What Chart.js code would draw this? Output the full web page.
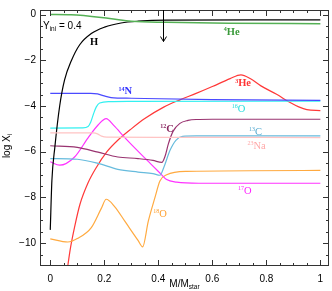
<!DOCTYPE html>
<html>
<head>
<meta charset="utf-8">
<script src="https://cdn.jsdelivr.net/npm/chart.js@4.4.1/dist/chart.umd.min.js"></script>
<style>
  html, body { margin: 0; padding: 0; background: #fff; }
  canvas { display: block; }
</style>
</head>
<body>
<canvas id="abundChart" width="332" height="291"></canvas>
<script>
// tick values
const xTicks = [0, 0.2, 0.4, 0.6, 0.8, 1];
const yTicks = [0, -2, -4, -6, -8, -10];

// abundance profiles, log X_i vs M/Mstar
const massH = [0, 0.006, 0.017, 0.035, 0.053, 0.078, 0.109, 0.152, 0.201, 0.262, 0.325, 0.43, 0.74, 1];
const logH = [-9.42, -7.27, -5.8, -3.99, -2.86, -2.02, -1.32, -0.83, -0.55, -0.37, -0.29, -0.24, -0.23, -0.23];

const massHe4 = [0, 0.077, 0.22, 0.3, 0.43, 0.66, 1];
const logHe4 = [0, -0.01, -0.17, -0.29, -0.34, -0.38, -0.40];

const massHe3 = [0.06, 0.075, 0.09, 0.11, 0.14, 0.17, 0.21, 0.25, 0.3, 0.35, 0.42, 0.48, 0.54, 0.6, 0.666, 0.706, 0.74, 0.78, 0.838, 0.888, 0.92, 0.95, 1];
const logHe3 = [-11.4, -10.2, -9.3, -8.3, -7.36, -6.7, -6.0, -5.5, -5.0, -4.55, -4.05, -3.73, -3.45, -3.15, -2.80, -2.64, -2.8, -3.12, -3.49, -3.85, -4.04, -4.16, -4.2];

const massN14 = [0, 0.15, 0.175, 0.2, 0.225, 0.3, 0.6, 1];
const logN14 = [-3.45, -3.45, -3.47, -3.56, -3.63, -3.66, -3.72, -3.75];

const massO16 = [0, 0.12, 0.14, 0.15, 0.16, 0.17, 0.183, 0.22, 0.3, 1];
const logO16 = [-4.97, -4.96, -4.9, -4.7, -4.35, -4.05, -3.87, -3.81, -3.80, -3.79];

const massNa23 = [0, 0.16, 0.175, 0.19, 0.21, 0.4, 1];
const logNa23 = [-5.18, -5.18, -5.22, -5.32, -5.36, -5.37, -5.38];

const massC12 = [0, 0.1, 0.177, 0.25, 0.325, 0.38, 0.413, 0.425, 0.437, 0.455, 0.48, 0.51, 0.54, 0.6, 1];
const logC12 = [-5.74, -5.81, -6.02, -6.23, -6.30, -6.38, -6.47, -6.2, -5.67, -5.1, -4.76, -4.63, -4.59, -4.58, -4.58];

const massC13 = [0, 0.1, 0.177, 0.25, 0.325, 0.38, 0.406, 0.42, 0.443, 0.465, 0.49, 0.54, 1];
const logC13 = [-6.30, -6.33, -6.51, -6.77, -6.89, -6.96, -7.03, -6.7, -5.95, -5.5, -5.33, -5.31, -5.31];

const massO17 = [0, 0.035, 0.09, 0.14, 0.177, 0.207, 0.235, 0.276, 0.32, 0.37, 0.406, 0.431, 0.468, 0.55, 1];
const logO17 = [-6.44, -6.59, -6.23, -5.39, -4.83, -4.55, -4.85, -5.38, -5.92, -6.51, -6.93, -7.22, -7.33, -7.38, -7.38];

const massO18 = [0, 0.065, 0.1, 0.152, 0.189, 0.207, 0.239, 0.276, 0.325, 0.342, 0.363, 0.388, 0.406, 0.431, 0.505, 1];
const logO18 = [-9.81, -9.95, -9.8, -9.32, -8.48, -8.08, -8.41, -9.04, -9.88, -10.16, -9.04, -7.99, -7.28, -7.01, -6.86, -6.82];

// curve labels (superscript mass number + element), placed in data coords
const labelSup = ['', '4', '3', '14', '16', '23', '12', '13', '17', '18'];
const labelName = ['H', 'He', 'He', 'N', 'O', 'Na', 'C', 'C', 'O', 'O'];
const labelMass = [0.162, 0.672, 0.714, 0.278, 0.697, 0.764, 0.432, 0.76, 0.72, 0.406];
const labelLog = [-1.17, -0.73, -2.98, -3.33, -4.09, -5.71, -4.97, -5.11, -7.68, -8.69];
const labelColor = ['#000000', '#3a9a3a', '#ff3333', '#3333ff', '#22dddd', '#ffa8a8', '#8b2a62', '#55aad0', '#ff22ff', '#ffa030'];
const labelWeight = ['bold', 'bold', 'bold', 'bold', 'normal', 'normal', 'bold', 'normal', 'normal', 'normal'];

// arrow marking the mass coordinate
const arrowMass = 0.418;
const arrowTip = -1.18;

const pts = (xs, ys) => xs.map((x, i) => ({ x: x, y: ys[i] }));

function line(label, xs, ys, color, width) {
    return {
        label: label,
        data: pts(xs, ys),
        borderColor: color,
        backgroundColor: color,
        borderWidth: width || 1.2,
        showLine: true,
        pointRadius: 0,
        cubicInterpolationMode: 'monotone'
    };
}

const decorPlugin = {
    id: 'decor',
    afterDraw(chart) {
        const ctx = chart.ctx;
        const sx = chart.scales.x;
        const sy = chart.scales.y;
        const a = chart.chartArea;
        ctx.save();

        // frame
        ctx.strokeStyle = '#333';
        ctx.lineWidth = 1;
        ctx.strokeRect(a.left + 0.5, a.top + 0.5, a.right - a.left - 1, a.bottom - a.top - 1);

        // inward ticks on all four sides
        ctx.beginPath();
        for (let i = 0; i <= 20; i++) {
            const p = Math.round(sx.getPixelForValue(i * 0.05)) + 0.5;
            const len = i % 4 === 0 ? 6 : 3;
            ctx.moveTo(p, a.bottom); ctx.lineTo(p, a.bottom - len);
            ctx.moveTo(p, a.top); ctx.lineTo(p, a.top + len);
        }
        for (let i = -21; i <= 0; i++) {
            const p = Math.round(sy.getPixelForValue(i * 0.5)) + 0.5;
            const len = i % 4 === 0 ? 6 : 3;
            ctx.moveTo(a.left, p); ctx.lineTo(a.left + len, p);
            ctx.moveTo(a.right, p); ctx.lineTo(a.right - len, p);
        }
        ctx.stroke();

        // arrow
        const ax = Math.round(sx.getPixelForValue(arrowMass)) + 0.5;
        const ay = sy.getPixelForValue(arrowTip);
        ctx.strokeStyle = '#000';
        ctx.beginPath();
        ctx.moveTo(ax, a.top); ctx.lineTo(ax, ay);
        ctx.moveTo(ax - 3, ay - 5); ctx.lineTo(ax, ay); ctx.lineTo(ax + 3, ay - 5);
        ctx.stroke();

        // curve labels
        ctx.textBaseline = 'alphabetic';
        for (let i = 0; i < labelName.length; i++) {
            const cx = sx.getPixelForValue(labelMass[i]);
            const cy = sy.getPixelForValue(labelLog[i]);
            const fSup = labelWeight[i] + ' 6px "Liberation Serif"';
            const fName = labelWeight[i] + ' 10.5px "Liberation Serif"';
            ctx.font = fSup;
            const ws = ctx.measureText(labelSup[i]).width;
            ctx.font = fName;
            const wn = ctx.measureText(labelName[i]).width;
            const x0 = cx - (ws + wn) / 2;
            const base = cy + 3.5;
            ctx.fillStyle = labelColor[i];
            ctx.font = fSup;
            ctx.fillText(labelSup[i], x0, base - 3.5);
            ctx.font = fName;
            ctx.fillText(labelName[i], x0 + ws, base);
        }

        // Y_ini = 0.4
        ctx.fillStyle = '#000';
        ctx.font = '10px "Liberation Sans"';
        let tx = a.left + 3;
        const tb = sy.getPixelForValue(-0.41) + 5;
        ctx.fillText('Y', tx, tb);
        tx += ctx.measureText('Y').width;
        ctx.font = '6.5px "Liberation Sans"';
        ctx.fillText('ini', tx, tb + 2);
        tx += ctx.measureText('ini').width;
        ctx.font = '10px "Liberation Sans"';
        ctx.fillText(' = 0.4', tx, tb);

        // x axis title  M/M_star
        ctx.font = '10px "Liberation Sans"';
        const w1 = ctx.measureText('M/M').width;
        ctx.font = '6.5px "Liberation Sans"';
        const w2 = ctx.measureText('star').width;
        const mx = (a.left + a.right) / 2 - (w1 + w2) / 2;
        ctx.font = '10px "Liberation Sans"';
        ctx.fillText('M/M', mx, 287);
        ctx.font = '6.5px "Liberation Sans"';
        ctx.fillText('star', mx + w1, 289);

        // y axis title  log X_i
        ctx.translate(10, 146);
        ctx.rotate(-Math.PI / 2);
        ctx.font = '10px "Liberation Sans"';
        const w3 = ctx.measureText('log X').width;
        ctx.font = '6.5px "Liberation Sans"';
        const w4 = ctx.measureText('i').width;
        const ly = -(w3 + w4) / 2;
        ctx.font = '10px "Liberation Sans"';
        ctx.fillText('log X', ly, 0);
        ctx.font = '6.5px "Liberation Sans"';
        ctx.fillText('i', ly + w3, 2);

        ctx.restore();
    }
};

const ctx1 = document.getElementById('abundChart').getContext('2d');
const chart1 = new Chart(ctx1, {
    type: 'scatter',
    data: {
        datasets: [
            line('Na23', massNa23, logNa23, '#ffc4c4'),
            line('He4', massHe4, logHe4, '#55b055', 1.5),
            line('H', massH, logH, '#000000'),
            line('N14', massN14, logN14, '#4a4aff'),
            line('O16', massO16, logO16, '#33f0f0'),
            line('C13', massC13, logC13, '#66bbdd'),
            line('C12', massC12, logC12, '#993370'),
            line('O17', massO17, logO17, '#ff33ff'),
            line('O18', massO18, logO18, '#ffaa40'),
            line('He3', massHe3, logHe3, '#ff3838')
        ]
    },
    options: {
        responsive: false,
        animation: false,
        devicePixelRatio: 1,
        layout: { padding: { top: 1, right: 3, left: 0, bottom: 0 } },
        plugins: { legend: { display: false }, tooltip: { enabled: false } },
        scales: {
            x: {
                type: 'linear',
                min: -0.038,
                max: 1.032,
                grid: { display: false, drawTicks: false },
                border: { display: false },
                afterBuildTicks: axis => { axis.ticks = xTicks.map(v => ({ value: v })); },
                afterFit: axis => { axis.height = 25; },
                ticks: {
                    color: '#000',
                    padding: 7,
                    maxRotation: 0,
                    font: { family: 'Liberation Sans', size: 10 },
                    callback: v => String(v)
                }
            },
            y: {
                type: 'linear',
                min: -11,
                max: 0.2,
                grid: { display: false, drawTicks: false },
                border: { display: false },
                afterBuildTicks: axis => { axis.ticks = yTicks.map(v => ({ value: v })); },
                afterFit: axis => { axis.width = 40; },
                ticks: {
                    color: '#000',
                    padding: 4,
                    font: { family: 'Liberation Sans', size: 10 },
                    callback: v => String(v).replace('-', '\u2212')
                }
            }
        }
    },
    plugins: [decorPlugin]
});
</script>
</body>
</html>
